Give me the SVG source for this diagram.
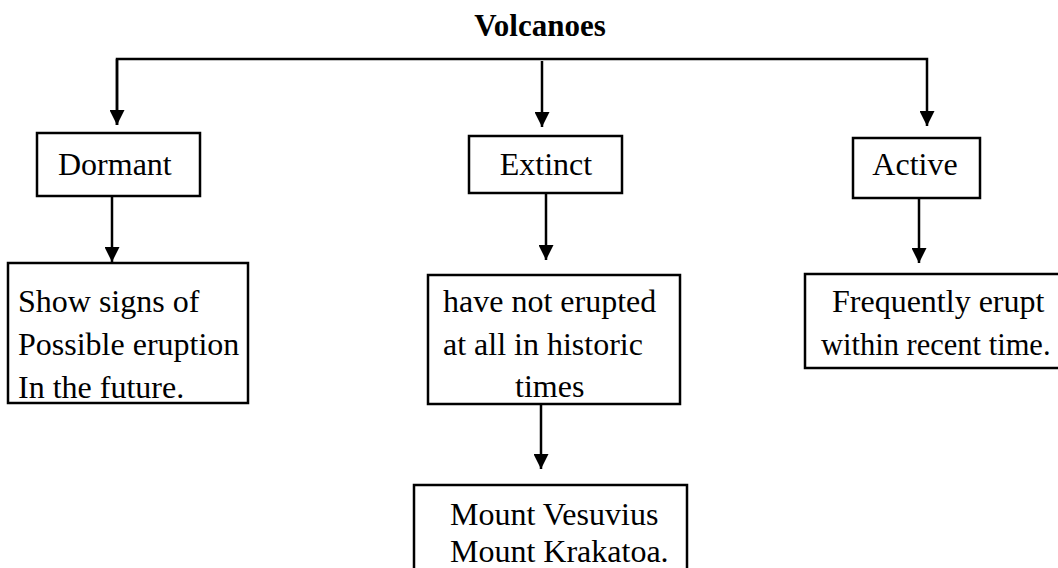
<svg xmlns="http://www.w3.org/2000/svg" width="1058" height="568" viewBox="0 0 1058 568">
<defs>
<style>
.box{fill:#fff;stroke:#000;stroke-width:2.5}
.t{font-family:"Liberation Serif","Times New Roman",serif;font-size:32px;fill:#000}
.title{font-family:"Liberation Serif","Times New Roman",serif;font-size:31px;font-weight:bold;fill:#000}
.ln{fill:none;stroke:#000;stroke-width:2.5}
</style>
<marker id="ah" markerWidth="15" markerHeight="15" viewBox="0 0 15 15" refX="15" refY="7.5" orient="auto" markerUnits="userSpaceOnUse">
<path d="M0,0 L15,7.5 L0,15 Z" fill="#000"/>
</marker>
</defs>
<rect width="1058" height="568" fill="#fff"/>
<g id="connectors">
<polyline class="ln" points="117,125 117,59 927,59 927,126" marker-end="url(#ah)"/>
<line class="ln" x1="117" y1="59" x2="117" y2="125" marker-end="url(#ah)"/>
<line class="ln" x1="542" y1="61" x2="542" y2="127" marker-end="url(#ah)"/>
<line class="ln" x1="112" y1="196" x2="112" y2="262" marker-end="url(#ah)"/>
<line class="ln" x1="546" y1="193" x2="546" y2="260" marker-end="url(#ah)"/>
<line class="ln" x1="919" y1="198" x2="919" y2="263" marker-end="url(#ah)"/>
<line class="ln" x1="541" y1="404" x2="541" y2="469" marker-end="url(#ah)"/>
</g>
<g id="title"><text class="title" x="540" y="36" text-anchor="middle">Volcanoes</text></g>
<g id="dormant"><rect class="box" x="37" y="133" width="163" height="63"/><text class="t" x="58" y="175">Dormant</text></g>
<g id="extinct"><rect class="box" x="469" y="136" width="153" height="57"/><text class="t" x="546" y="175" text-anchor="middle">Extinct</text></g>
<g id="active"><rect class="box" x="853" y="138" width="127" height="60"/><text class="t" x="915" y="175" text-anchor="middle">Active</text></g>
<g id="dormant-desc"><rect class="box" x="8" y="263" width="240" height="140"/>
<text class="t" x="18" y="312">Show signs of</text>
<text class="t" x="18" y="355">Possible eruption</text>
<text class="t" x="18" y="398">In the future.</text></g>
<g id="extinct-desc"><rect class="box" x="428" y="275" width="252" height="129"/>
<text class="t" x="443" y="312">have not erupted</text>
<text class="t" x="443" y="355">at all in historic</text>
<text class="t" x="515" y="397">times</text></g>
<g id="active-desc"><rect class="box" x="805" y="274" width="260" height="94"/>
<text class="t" x="832" y="312">Frequently erupt</text>
<text class="t" x="821" y="355" style="font-size:30.5px">within recent time.</text></g>
<g id="examples"><rect class="box" x="414" y="485" width="273" height="100"/>
<text class="t" x="450" y="525">Mount Vesuvius</text>
<text class="t" x="450" y="562">Mount Krakatoa.</text></g>
</svg>
